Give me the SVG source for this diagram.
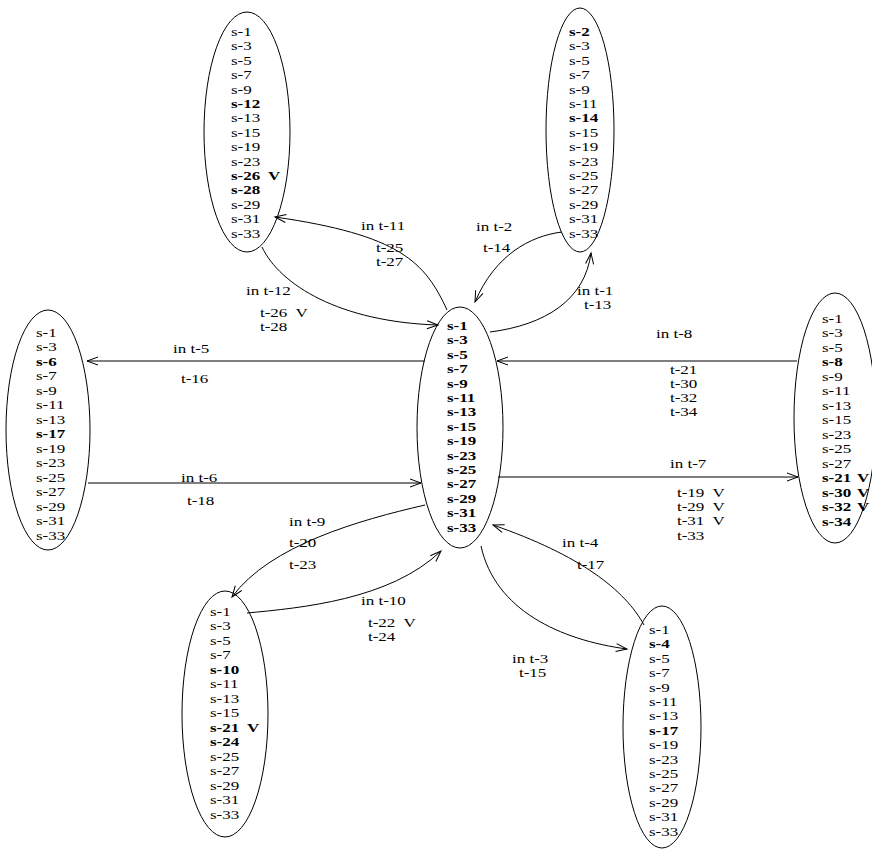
<svg xmlns="http://www.w3.org/2000/svg" width="872" height="849" viewBox="0 0 872 849">
<style>
text{font-family:"Liberation Serif","Times New Roman",serif;font-size:17px;fill:#000}
.b{font-weight:bold}
.n{fill:none;stroke:#000;stroke-width:1}
.e{fill:none;stroke:#000;stroke-width:1;marker-end:url(#ah)}
</style>
<defs>
<marker id="ah" markerUnits="userSpaceOnUse" markerWidth="14" markerHeight="10" viewBox="-12 -5 14 10" refX="0" refY="0" orient="auto">
<path d="M-11,-4 L0,0 L-11,4" fill="none" stroke="#000" stroke-width="1"/>
</marker>
</defs>
<rect width="872" height="849" fill="#fff"/>
<g id="connectors">
<path class="e" d="M447,310 C425,262 400,235 275,217"/>
<path class="e" d="M262,247 C280,285 340,322 438,325"/>
<path class="e" d="M562,232 C530,236 495,255 475,302"/>
<path class="e" d="M490,332 C545,325 585,300 591,253"/>
<path class="e" d="M425,361 L87,361"/>
<path class="e" d="M88,483 L421,483"/>
<path class="e" d="M797,361 L497,361"/>
<path class="e" d="M498,477 L798,477"/>
<path class="e" d="M425,505 C360,520 270,545 232,597"/>
<path class="e" d="M247,613 C300,608 390,600 441,551"/>
<path class="e" d="M481,546 C495,610 560,640 627,649"/>
<path class="e" d="M644,625 C625,590 580,555 493,525"/>
</g>
<g id="edge-labels">
<text transform="matrix(1 0 0 .76 361 230)">in t-11</text><text transform="matrix(1 0 0 .76 376 252)">t-25</text><text transform="matrix(1 0 0 .76 376 266)">t-27</text>
<text transform="matrix(1 0 0 .76 246 295)">in t-12</text><text transform="matrix(1 0 0 .76 260 317)" xml:space="preserve">t-26  V</text><text transform="matrix(1 0 0 .76 260 331)">t-28</text>
<text transform="matrix(1 0 0 .76 476 231)">in t-2</text><text transform="matrix(1 0 0 .76 483 252)">t-14</text>
<text transform="matrix(1 0 0 .76 577 295)">in t-1</text><text transform="matrix(1 0 0 .76 584 309)">t-13</text>
<text transform="matrix(1 0 0 .76 173 353)">in t-5</text><text transform="matrix(1 0 0 .76 181 383)">t-16</text>
<text transform="matrix(1 0 0 .76 181 482)">in t-6</text><text transform="matrix(1 0 0 .76 187 505)">t-18</text>
<text transform="matrix(1 0 0 .76 656 338)">in t-8</text><text transform="matrix(1 0 0 .76 670 374)">t-21</text><text transform="matrix(1 0 0 .76 670 388)">t-30</text><text transform="matrix(1 0 0 .76 670 402)">t-32</text><text transform="matrix(1 0 0 .76 670 416)">t-34</text>
<text transform="matrix(1 0 0 .76 670 468)">in t-7</text><text transform="matrix(1 0 0 .76 677 497)" xml:space="preserve">t-19  V</text><text transform="matrix(1 0 0 .76 677 511)" xml:space="preserve">t-29  V</text><text transform="matrix(1 0 0 .76 677 525)" xml:space="preserve">t-31  V</text><text transform="matrix(1 0 0 .76 677 540)">t-33</text>
<text transform="matrix(1 0 0 .76 289 526)">in t-9</text><text transform="matrix(1 0 0 .76 289 547)">t-20</text><text transform="matrix(1 0 0 .76 289 569)">t-23</text>
<text transform="matrix(1 0 0 .76 361 605)">in t-10</text><text transform="matrix(1 0 0 .76 368 627)" xml:space="preserve">t-22  V</text><text transform="matrix(1 0 0 .76 368 641)">t-24</text>
<text transform="matrix(1 0 0 .76 512 663)">in t-3</text><text transform="matrix(1 0 0 .76 519 677)">t-15</text>
<text transform="matrix(1 0 0 .76 562 547)">in t-4</text><text transform="matrix(1 0 0 .76 577 569)">t-17</text>
</g>
<g id="node-top-left">
<ellipse class="n" cx="247" cy="132" rx="43" ry="120"/>
<g transform="translate(231,36) scale(1,.76)">
<text y="0">s-1</text><text y="18.95">s-3</text><text y="37.89">s-5</text><text y="56.84">s-7</text><text y="75.79">s-9</text>
<text class="b" y="94.74">s-12</text><text y="113.68">s-13</text><text y="132.63">s-15</text><text y="151.58">s-19</text><text y="170.53">s-23</text>
<text class="b" y="189.47">s-26</text><text class="b" x="37" y="189.47">V</text><text class="b" y="208.42">s-28</text><text y="227.37">s-29</text><text y="246.32">s-31</text><text y="265.26">s-33</text>
</g>
</g>
<g id="node-top-right">
<ellipse class="n" cx="580" cy="130" rx="34" ry="122"/>
<g transform="translate(569,36) scale(1,.76)">
<text class="b" y="0">s-2</text><text y="18.95">s-3</text><text y="37.89">s-5</text><text y="56.84">s-7</text><text y="75.79">s-9</text>
<text y="94.74">s-11</text><text class="b" y="113.68">s-14</text><text y="132.63">s-15</text><text y="151.58">s-19</text><text y="170.53">s-23</text>
<text y="189.47">s-25</text><text y="208.42">s-27</text><text y="227.37">s-29</text><text y="246.32">s-31</text><text y="265.26">s-33</text>
</g>
</g>
<g id="node-center">
<ellipse class="n" cx="460" cy="427.5" rx="43" ry="120.5"/>
<g class="b" transform="translate(447,330) scale(1,.76)">
<text class="b" y="0">s-1</text><text class="b" y="18.95">s-3</text><text class="b" y="37.89">s-5</text><text class="b" y="56.84">s-7</text><text class="b" y="75.79">s-9</text>
<text class="b" y="94.74">s-11</text><text class="b" y="113.68">s-13</text><text class="b" y="132.63">s-15</text><text class="b" y="151.58">s-19</text><text class="b" y="170.53">s-23</text>
<text class="b" y="189.47">s-25</text><text class="b" y="208.42">s-27</text><text class="b" y="227.37">s-29</text><text class="b" y="246.32">s-31</text><text class="b" y="265.26">s-33</text>
</g>
</g>
<g id="node-left">
<ellipse class="n" cx="48" cy="430" rx="42" ry="120"/>
<g transform="translate(36,337) scale(1,.76)">
<text y="0">s-1</text><text y="19.08">s-3</text><text class="b" y="38.16">s-6</text><text y="57.24">s-7</text><text y="76.32">s-9</text>
<text y="95.39">s-11</text><text y="114.47">s-13</text><text class="b" y="133.55">s-17</text><text y="152.63">s-19</text><text y="171.71">s-23</text>
<text y="190.79">s-25</text><text y="209.87">s-27</text><text y="228.95">s-29</text><text y="248.03">s-31</text><text y="267.11">s-33</text>
</g>
</g>
<g id="node-right">
<ellipse class="n" cx="835" cy="418" rx="41" ry="125"/>
<g transform="translate(822,323) scale(1,.76)">
<text y="0">s-1</text><text y="19.08">s-3</text><text y="38.16">s-5</text><text class="b" y="57.24">s-8</text><text y="76.32">s-9</text>
<text y="95.39">s-11</text><text y="114.47">s-13</text><text y="133.55">s-15</text><text y="152.63">s-23</text><text y="171.71">s-25</text>
<text y="190.79">s-27</text><text class="b" y="209.87">s-21</text><text class="b" x="35" y="209.87">V</text><text class="b" y="228.95">s-30</text><text class="b" x="35" y="228.95">V</text>
<text class="b" y="248.03">s-32</text><text class="b" x="35" y="248.03">V</text><text class="b" y="267.11">s-34</text>
</g>
</g>
<g id="node-bottom-left">
<ellipse class="n" cx="225" cy="714" rx="43" ry="123"/>
<g transform="translate(210,616) scale(1,.76)">
<text y="0">s-1</text><text y="19.08">s-3</text><text y="38.16">s-5</text><text y="57.24">s-7</text><text class="b" y="76.32">s-10</text>
<text y="95.39">s-11</text><text y="114.47">s-13</text><text y="133.55">s-15</text><text class="b" y="152.63">s-21</text><text class="b" x="37" y="152.63">V</text><text class="b" y="171.71">s-24</text>
<text y="190.79">s-25</text><text y="209.87">s-27</text><text y="228.95">s-29</text><text y="248.03">s-31</text><text y="267.11">s-33</text>
</g>
</g>
<g id="node-bottom-right">
<ellipse class="n" cx="662" cy="727" rx="39" ry="121"/>
<g transform="translate(649,634) scale(1,.76)">
<text y="0">s-1</text><text class="b" y="18.95">s-4</text><text y="37.89">s-5</text><text y="56.84">s-7</text><text y="75.79">s-9</text>
<text y="94.74">s-11</text><text y="113.68">s-13</text><text class="b" y="132.63">s-17</text><text y="151.58">s-19</text><text y="170.53">s-23</text>
<text y="189.47">s-25</text><text y="208.42">s-27</text><text y="227.37">s-29</text><text y="246.32">s-31</text><text y="265.26">s-33</text>
</g>
</g>
</svg>
